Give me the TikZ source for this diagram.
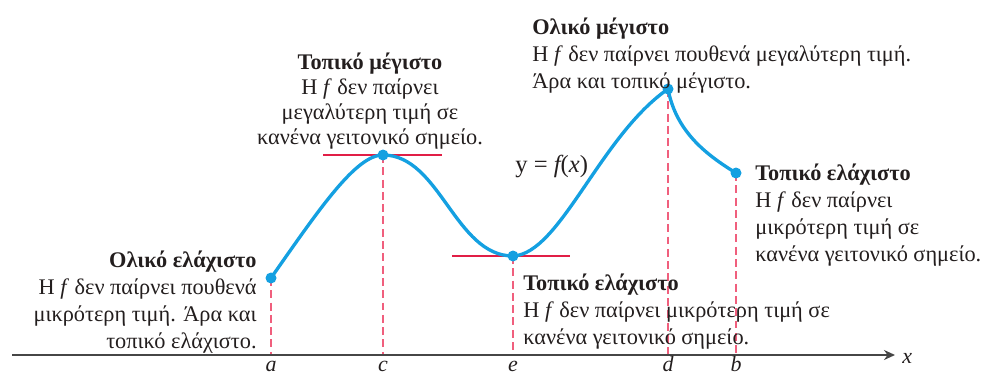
\documentclass[tikz,border=0pt]{standalone}
\usepackage{fontspec}
\setmainfont{Liberation Serif}
\usepackage{xcolor}
\definecolor{azulCurva}{RGB}{20,160,225}
\definecolor{vermelhoTangente}{RGB}{225,30,70}
\definecolor{rosaGuia}{RGB}{240,95,125}
\definecolor{cinzaEixo}{RGB}{70,70,70}
\definecolor{textoEscuro}{RGB}{35,30,30}
\usetikzlibrary{arrows.meta,positioning,calc}
\tikzset{
  curva/.style={azulCurva, line width=1.9pt, line cap=round},
  ponto/.style={circle, fill=azulCurva, inner sep=0pt, minimum size=2.2mm},
  tangente/.style={vermelhoTangente, line width=1.2pt},
  guia/.style={rosaGuia, line width=0.9pt, dash pattern=on 4.5pt off 2.5pt},
  eixo/.style={cinzaEixo, line width=1pt, -{Stealth[length=2.2mm, width=2mm]}},
  texto/.style={inner sep=0pt, text=textoEscuro, font=\fontsize{12.7}{15.3}\selectfont},
  rotulo/.style={inner sep=0pt, text=textoEscuro, font=\fontsize{12.5}{14}\selectfont\itshape},
}

\begin{document}
\begin{tikzpicture}[x=0.02cm, y=0.02cm]
  \useasboundingbox (0,0) rectangle (990,376);
  % pontos do grafico
  \coordinate (a) at (271,98);
  \coordinate (c) at (383,221);
  \coordinate (e) at (513,120);
  \coordinate (d) at (668,287);
  \coordinate (b) at (736,203);
  \coordinate (origem) at (12,21);
  \coordinate (fim) at (895,21);

  \foreach \p in {a,c,e,d,b}
    \draw[guia] (\p) -- (\p |- origem);
  \draw[eixo] (origem) -- (fim);
  \node[rotulo, anchor=base west, right=4pt of fim, yshift=-2pt] (xlab) {x};
  \foreach \p in {a,c,e,d,b}
    \node[rotulo, anchor=base] (l\p) at ($(\p |- origem)+(0,-16)$) {\p};

  \draw[tangente] ($(c)+(-60,0)$) -- ($(c)+(59,0)$);
  \draw[tangente] ($(e)+(-61,0)$) -- ($(e)+(57,0)$);

  \draw[curva] (a) .. controls (320,168) and (356,221) .. (c)
    .. controls (440,221) and (455,120) .. (e)
    .. controls (560,122) and (600,240) .. (d)
    .. controls (676,245) and (705,222) .. (b);
  \foreach \p in {a,c,e,d,b}
    \node[ponto] (p\p) at (\p) {};

  \node[rotulo, font=\fontsize{14}{15}\selectfont, anchor=base west] (fx) at (515,204)
    {y \upshape=\ \itshape f\upshape(\itshape x\upshape)};

  % textos
  \node[texto, align=right, anchor=north east] (olikoelax) at (257,125)
    {\textbf{Ολικό ελάχιστο}\\Η \textit{f} δεν παίρνει πουθενά\\
     μικρότερη τιμή. Άρα και\\τοπικό ελάχιστο.};
  \node[texto, font=\fontsize{12.7}{14.2}\selectfont, align=center, anchor=north]
    (topmeg) at (370,323)
    {\textbf{Τοπικό μέγιστο}\\Η \textit{f} δεν παίρνει\\
     μεγαλύτερη τιμή σε\\κανένα γειτονικό σημείο.};
  \node[texto, align=left, anchor=north west] (topelax) at (523,102)
    {\textbf{Τοπικό ελάχιστο}\\Η \textit{f} δεν παίρνει μικρότερη τιμή σε\\
     κανένα γειτονικό σημείο.};
  \node[texto, align=left, anchor=north west] (olikomeg) at (532,358)
    {\textbf{Ολικό μέγιστο}\\Η \textit{f} δεν παίρνει πουθενά μεγαλύτερη τιμή.\\
     Άρα και τοπικό μέγιστο.};
  \node[texto, align=left, anchor=north west] (topelaxb) at (755,212)
    {\textbf{Τοπικό ελάχιστο}\\Η \textit{f} δεν παίρνει\\
     μικρότερη τιμή σε\\κανένα γειτονικό σημείο.};
\end{tikzpicture}
\end{document}
